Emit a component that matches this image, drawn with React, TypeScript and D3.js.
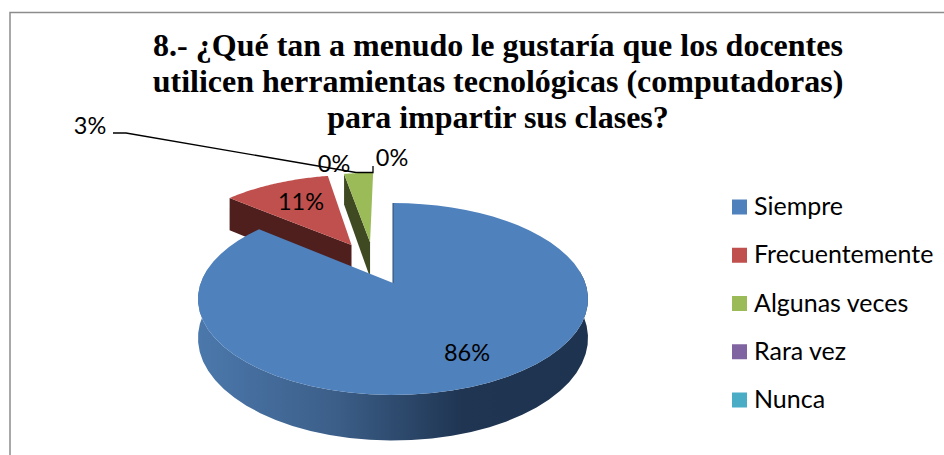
import React from "react";
import * as d3 from "d3";

const categories = ["Siempre", "Frecuentemente", "Algunas veces", "Rara vez", "Nunca"];
const values = [86, 11, 3, 0, 0];
const colors = ["#4f81bd", "#c0504d", "#9bbb59", "#8064a2", "#4bacc6"];
const wallColors = ["#2c4a70", "#4f1f1e", "#3f4a22", "#3a2c4a", "#1f4f5c"];
const titleLines = [
  "8.- ¿Qué tan a menudo le gustaría que los docentes",
  "utilicen herramientas tecnológicas (computadoras)",
  "para impartir sus clases?",
];

const K = 1 / 6;
const R = 192.3;
const H = 93.3;
const DEPTH = 38;
const EXPLODE = 0.2475;
const CX = 393;
const CY = 283;

type P = [number, number];
const project = (X: number, Z: number, drop = 0): P => {
  const w = 1 + K * Z;
  return [CX + (R * X) / w, CY - (H * Z) / w + drop / w];
};

export default function App() {
  const arcs = d3.pie<number>().sort(null)(values);
  const mid0 = (arcs[0].startAngle + arcs[0].endAngle) / 2;
  const ox = -EXPLODE * Math.sin(mid0);
  const oz = -EXPLODE * Math.cos(mid0);
  const line = d3.line<P>();

  const slices = arcs.map((a, i) => {
    const mid = (a.startAngle + a.endAngle) / 2;
    const bx = ox + EXPLODE * Math.sin(mid);
    const bz = oz + EXPLODE * Math.cos(mid);
    const angles = d3.range(0, 61).map((j) => a.startAngle + ((a.endAngle - a.startAngle) * j) / 60);
    const rim = angles.map((t) => [bx + Math.sin(t), bz + Math.cos(t)] as P);
    return { i, bx, bz, rim };
  });

  const drawOrder = [2, 1, 0];

  const renderSlice = (idx: number) => {
    const s = slices[idx];
    const top = [[s.bx, s.bz] as P, ...s.rim].map(([x, z]) => project(x, z));
    const first = s.rim[0];
    if (idx === 0) {
      const frontRim = s.rim.filter(([, z]) => z < 0.17 + s.bz);
      const wall = [
        ...frontRim.map(([x, z]) => project(x, z)),
        ...frontRim.slice().reverse().map(([x, z]) => project(x, z, DEPTH)),
      ];
      return (
        <g key={idx}>
          <path d={line(wall) + "Z"} fill="url(#blueRim)" />
          <path d={line(top) + "Z"} fill={colors[0]} />
          <path d={line([project(s.bx, s.bz), project(first[0], first[1])])!} stroke={wallColors[0]} strokeWidth={1} fill="none" />
        </g>
      );
    }
    // d3.pie runs clockwise from 12 o'clock; the wall shown is the cut facing the viewer (start edge).
    const wall = [
      project(s.bx, s.bz),
      project(first[0], first[1]),
      project(first[0], first[1], DEPTH),
      project(s.bx, s.bz, DEPTH),
    ];
    return (
      <g key={idx}>
        <path d={line(wall) + "Z"} fill={wallColors[idx]} />
        <path d={line(top) + "Z"} fill={colors[idx]} />
      </g>
    );
  };

  const y = d3.scalePoint<string>().domain(categories).range([207, 400]);

  const labelFont = "Lato, 'Noto Sans', sans-serif";
  const labels: { t: string; x: number; y: number }[] = [
    { t: "86%", x: 467, y: 361 },
    { t: "11%", x: 301, y: 210 },
    { t: "3%", x: 90, y: 134 },
    { t: "0%", x: 334, y: 172 },
    { t: "0%", x: 392, y: 166 },
  ];

  return (
    <svg width={944} height={455} style={{ position: "absolute", left: 0, top: 0, background: "#fff" }}>
      <defs>
        <linearGradient id="blueRim" gradientUnits="userSpaceOnUse" x1={198} x2={587} y1={0} y2={0}>
          <stop offset="0" stopColor="#4b78ac" />
          <stop offset="0.35" stopColor="#3c5f89" />
          <stop offset="0.68" stopColor="#1f3552" />
          <stop offset="1" stopColor="#1e3350" />
        </linearGradient>
      </defs>
      <rect x={10} y={12.5} width={960} height={480} fill="#fff" stroke="#8c8c8c" strokeWidth={1.5} />
      <g fontFamily="'Liberation Serif', serif" fontWeight="bold" fontSize={32} textAnchor="middle" fill="#000">
        {titleLines.map((l, i) => (
          <text key={i} x={498} y={56 + i * 36}>
            {l}
          </text>
        ))}
      </g>
      {drawOrder.map(renderSlice)}
      <path d="M113,133 L126,133 L356,172.5 L373,172.5 L373,166" fill="none" stroke="#000" strokeWidth={1.3} />
      <g fontFamily={labelFont} fontSize={23.5} textAnchor="middle" fill="#000">
        {labels.map((l, i) => (
          <text key={i} x={l.x} y={l.y}>
            {l.t}
          </text>
        ))}
      </g>
      <g fontFamily={labelFont} fontSize={25} fill="#000">
        {categories.map((c, i) => (
          <g key={c}>
            <rect x={732} y={y(c)! - 7.5} width={15} height={15} fill={colors[i]} />
            <text x={754} y={y(c)! + 8}>
              {c}
            </text>
          </g>
        ))}
      </g>
    </svg>
  );
}
